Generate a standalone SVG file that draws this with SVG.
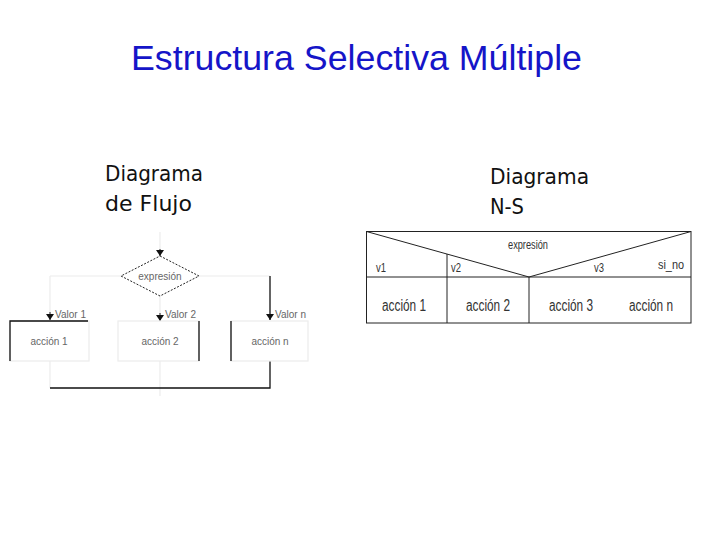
<svg xmlns="http://www.w3.org/2000/svg" width="720" height="540" viewBox="0 0 720 540">
<style>
.title{font-family:"Liberation Sans",Arial,sans-serif;font-size:35px;fill:#1515c8}
.head{font-family:"DejaVu Sans",sans-serif;font-size:21px;fill:#111}
.fc{font-family:"Liberation Sans",Arial,sans-serif;font-size:10px;fill:#666}
.ns{font-family:"Liberation Sans",Arial,sans-serif;fill:#333}
.dark{stroke:#111;stroke-width:1.3;fill:none}
.faint{stroke:#ececec;stroke-width:1.2;fill:none}
.thin{stroke:#222;stroke-width:1;fill:none}
</style>
<defs>
<marker id="ah" markerWidth="8" markerHeight="8" refX="6" refY="4" orient="auto" markerUnits="userSpaceOnUse">
<path d="M0,0 L6,4 L0,8 Z" fill="#111"/>
</marker>
</defs>
<rect width="720" height="540" fill="#fff"/>
<text class="title" x="131" y="70" textLength="451" lengthAdjust="spacingAndGlyphs">Estructura Selectiva Múltiple</text>
<g id="head-left">
<text class="head" x="105" y="181" textLength="98" lengthAdjust="spacingAndGlyphs">Diagrama</text>
<text class="head" x="105" y="211" textLength="87" lengthAdjust="spacingAndGlyphs">de Flujo</text>
</g>
<g id="head-right">
<text class="head" x="490" y="184" textLength="99" lengthAdjust="spacingAndGlyphs">Diagrama</text>
<text class="head" x="490" y="214" textLength="34" lengthAdjust="spacingAndGlyphs">N-S</text>
</g>
<!-- Flowchart -->
<g id="connectors">
<line class="faint" x1="160" y1="232" x2="160" y2="252"/>
<line class="faint" x1="121" y1="276" x2="50" y2="276"/>
<line class="faint" x1="50" y1="276" x2="50" y2="314"/>
<line class="faint" x1="199" y1="276" x2="270" y2="276"/>
<line class="faint" x1="160" y1="296" x2="160" y2="314"/>
<line class="faint" x1="50" y1="361" x2="50" y2="388"/>
<line class="faint" x1="160" y1="361" x2="160" y2="396"/>
<path d="M160,249 L160,256" class="thin" marker-end="url(#ah)"/>
<path d="M50,312 L50,320" class="thin" marker-end="url(#ah)"/>
<path d="M160,313 L160,321" class="thin" marker-end="url(#ah)"/>
<path d="M270,276 L270,320" class="dark" marker-end="url(#ah)"/>
<polyline class="dark" points="270,361 270,388 50,388"/>
</g>
<g id="fc-decision">
<polygon points="160,256 199,276 160,296 121,276" fill="none" stroke="#222" stroke-width="1" stroke-dasharray="2,1.5"/>
<text class="fc" x="160" y="280" text-anchor="middle">expresión</text>
</g>
<g id="fc-valores">
<text class="fc" x="55" y="318">Valor 1</text>
<text class="fc" x="165" y="318">Valor 2</text>
<text class="fc" x="275" y="318">Valor n</text>
</g>
<g id="fc-accion1">
<rect x="10" y="321" width="79" height="40" class="faint"/>
<polyline class="dark" points="88,321 10,321 10,361"/>
<text class="fc" x="49" y="345" text-anchor="middle">acción 1</text>
</g>
<g id="fc-accion2">
<rect x="118" y="321" width="81" height="40" class="faint"/>
<line class="dark" x1="199" y1="321" x2="199" y2="361"/>
<text class="fc" x="160" y="345" text-anchor="middle">acción 2</text>
</g>
<g id="fc-accionn">
<rect x="231" y="321" width="77" height="40" class="faint"/>
<line class="dark" x1="231" y1="321" x2="231" y2="361"/>
<text class="fc" x="270" y="345" text-anchor="middle">acción n</text>
</g>
<!-- N-S diagram -->
<g id="ns-diagram">
<rect x="366.5" y="231.5" width="324.5" height="91.5" class="thin"/>
<line class="thin" x1="366.5" y1="277" x2="691" y2="277"/>
<polyline class="thin" points="366.5,231.5 529,277 691,231.5"/>
<line class="thin" x1="447" y1="254" x2="447" y2="323"/>
<line class="thin" x1="529" y1="277" x2="529" y2="323"/>
<text class="ns" x="528" y="249" font-size="12" text-anchor="middle" textLength="40" lengthAdjust="spacingAndGlyphs">expresión</text>
<text class="ns" x="376" y="272" font-size="13" textLength="10" lengthAdjust="spacingAndGlyphs">v1</text>
<text class="ns" x="451" y="272" font-size="13" textLength="10" lengthAdjust="spacingAndGlyphs">v2</text>
<text class="ns" x="594" y="272" font-size="13" textLength="10" lengthAdjust="spacingAndGlyphs">v3</text>
<text class="ns" x="658" y="269" font-size="13" textLength="26" lengthAdjust="spacingAndGlyphs">si_no</text>
<text class="ns" x="404" y="311" font-size="16" text-anchor="middle" textLength="44" lengthAdjust="spacingAndGlyphs">acción 1</text>
<text class="ns" x="488" y="311" font-size="16" text-anchor="middle" textLength="44" lengthAdjust="spacingAndGlyphs">acción 2</text>
<text class="ns" x="571" y="311" font-size="16" text-anchor="middle" textLength="44" lengthAdjust="spacingAndGlyphs">acción 3</text>
<text class="ns" x="651" y="311" font-size="16" text-anchor="middle" textLength="44" lengthAdjust="spacingAndGlyphs">acción n</text>
</g>
</svg>
